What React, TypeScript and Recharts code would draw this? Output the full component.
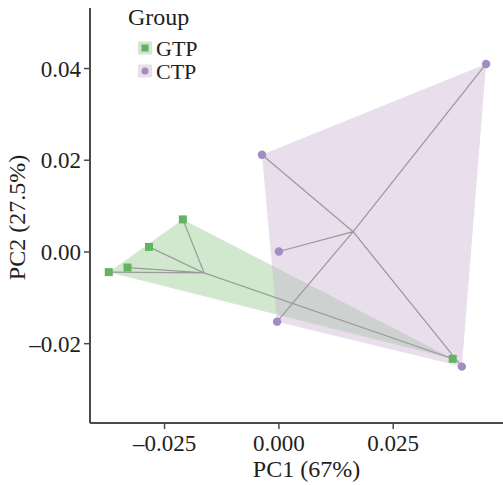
import React from 'react';
import { ScatterChart, Scatter, XAxis, YAxis, Label } from 'recharts';

// PCA scores
const gtpPC1 = [-0.021, -0.0284, -0.0331, -0.0372, 0.038];
const gtpPC2 = [0.0071, 0.0011, -0.0034, -0.0044, -0.0233];
const ctpPC1 = [-0.0037, 0.0, -0.0004, 0.0453, 0.04];
const ctpPC2 = [0.0212, 0.0001, -0.0152, 0.041, -0.025];

const xTicks = [-0.025, 0, 0.025];
const yTicks = [-0.02, 0, 0.02, 0.04];

const FONT = "'Liberation Serif', 'Times New Roman', serif";

type Pt = { x: number; y: number };

const toPoints = (xs: number[], ys: number[]): Pt[] => xs.map((x, i) => ({ x, y: ys[i] }));

// monotone chain convex hull
function hull(pts: Pt[]): Pt[] {
  const p = [...pts].sort((a, b) => a.x - b.x || a.y - b.y);
  const cross = (o: Pt, a: Pt, b: Pt) => (a.x - o.x) * (b.y - o.y) - (a.y - o.y) * (b.x - o.x);
  const lower: Pt[] = [];
  for (const q of p) {
    while (lower.length >= 2 && cross(lower[lower.length - 2], lower[lower.length - 1], q) <= 0) lower.pop();
    lower.push(q);
  }
  const upper: Pt[] = [];
  for (const q of [...p].reverse()) {
    while (upper.length >= 2 && cross(upper[upper.length - 2], upper[upper.length - 1], q) <= 0) upper.pop();
    upper.push(q);
  }
  return lower.slice(0, -1).concat(upper.slice(0, -1));
}

const centroid = (pts: Pt[]): Pt => ({
  x: pts.reduce((s, p) => s + p.x, 0) / pts.length,
  y: pts.reduce((s, p) => s + p.y, 0) / pts.length,
});

// centre -> point -> centre ... so one joint line draws the whole star
const star = (pts: Pt[]): Pt[] => {
  const c = centroid(pts);
  return pts.flatMap((p) => [c, p]).concat([c]);
};

const groups = [
  { name: 'GTP', points: toPoints(gtpPC1, gtpPC2), color: '#62b462', fill: '#92c98a', shape: 'square' },
  { name: 'CTP', points: toPoints(ctpPC1, ctpPC2), color: '#a48bc2', fill: '#c9b0d2', shape: 'circle' },
];

const fmt = (digits: number) => (v: number) =>
  v < 0 ? `\u2013${Math.abs(v).toFixed(digits)}` : v.toFixed(digits);

const hidden = () => <g />;

const polygon = (fill: string) => (props: any) => {
  const pts = props.points || [];
  if (!pts.length) return <g />;
  const d = 'M' + pts.map((p: any) => `${p.x},${p.y}`).join('L') + 'Z';
  return <path d={d} fill={fill} fillOpacity={0.42} stroke="none" />;
};

const marker = (shape: string, color: string) => (props: any) =>
  shape === 'square' ? (
    <rect x={props.cx - 4} y={props.cy - 4} width={8} height={8} fill={color} />
  ) : (
    <circle cx={props.cx} cy={props.cy} r={4.2} fill={color} />
  );

const axisLine = { stroke: '#4a4a4a', strokeWidth: 2 };
const tickLine = { stroke: '#4a4a4a', strokeWidth: 1.5 };
const tickStyle = { fill: '#1e1e1e', fontSize: 23, fontFamily: FONT };
const titleStyle = { fill: '#1e1e1e', fontSize: 24, fontFamily: FONT };

export default function App() {
  return (
    <div style={{ position: 'absolute', left: 0, top: 0, width: 503, height: 485, background: '#fff' }}>
      <ScatterChart width={503} height={485} margin={{ top: 8, right: 0, bottom: 0, left: 0 }}>
        <XAxis
          type="number"
          dataKey="x"
          domain={[-0.0413, 0.049]}
          allowDataOverflow
          ticks={xTicks}
          tickFormatter={fmt(3)}
          tick={tickStyle}
          tickSize={6}
          tickMargin={6}
          axisLine={axisLine}
          tickLine={tickLine}
          height={62}
        >
          <Label value="PC1 (67%)" position="insideBottom" offset={8} dx={10} style={titleStyle} />
        </XAxis>
        <YAxis
          type="number"
          dataKey="y"
          domain={[-0.0373, 0.0532]}
          allowDataOverflow
          ticks={yTicks}
          tickFormatter={fmt(2)}
          tick={tickStyle}
          tickSize={6}
          tickMargin={3}
          axisLine={axisLine}
          tickLine={tickLine}
          width={90}
        >
          <Label
            value="PC2 (27.5%)"
            angle={-90}
            position="insideLeft"
            offset={16}
            dy={2}
            style={{ ...titleStyle, textAnchor: 'middle' }}
          />
        </YAxis>
        {groups.map((g) => (
          <Scatter
            key={`hull-${g.name}`}
            data={hull(g.points)}
            line={polygon(g.fill)}
            lineJointType="linear"
            shape={hidden}
            isAnimationActive={false}
          />
        ))}
        {groups.map((g) => (
          <Scatter
            key={`star-${g.name}`}
            data={star(g.points)}
            fill="#9a9a9a"
            line={{ stroke: '#9a9a9a', strokeWidth: 1.2 }}
            lineJointType="linear"
            shape={hidden}
            isAnimationActive={false}
          />
        ))}
        {groups.map((g) => (
          <Scatter
            key={`pts-${g.name}`}
            name={g.name}
            data={g.points}
            shape={marker(g.shape, g.color)}
            isAnimationActive={false}
          />
        ))}
      </ScatterChart>
      <svg
        width={130}
        height={90}
        style={{ position: 'absolute', left: 120, top: 0 }}
        fontFamily={FONT}
      >
        <text x={8} y={25} fill="#1e1e1e" fontSize={24}>Group</text>
        {groups.map((g, i) => {
          const cy = 48 + i * 23;
          return (
            <g key={g.name}>
              <rect x={18} y={cy - 6.5} width={14} height={13} fill={g.fill} fillOpacity={0.42} />
              {g.shape === 'square' ? (
                <rect x={21.5} y={cy - 3.5} width={7} height={7} fill={g.color} />
              ) : (
                <circle cx={25} cy={cy} r={3.5} fill={g.color} />
              )}
              <text x={36} y={cy + 7.5} fill="#1e1e1e" fontSize={22}>{g.name}</text>
            </g>
          );
        })}
      </svg>
    </div>
  );
}
